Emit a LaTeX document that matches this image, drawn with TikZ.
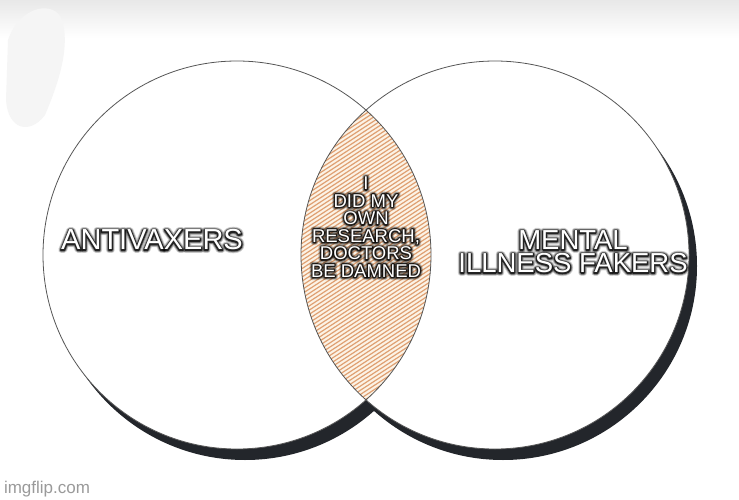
\documentclass[tikz,border=0pt]{standalone}
\usepackage{fontspec}
\newfontfamily\memefont{Liberation Sans}
\usetikzlibrary{calc}

\definecolor{shadowgray}{HTML}{23262B}
\definecolor{rimgray}{HTML}{555555}
\definecolor{lensbg}{HTML}{FCF3E6}
\definecolor{lensline}{HTML}{DFA072}
\definecolor{markgray}{HTML}{9A9A9A}

% outline only (text stroked, not filled)
\newcommand{\rimon}[1]{\special{pdf:literal direct 0 0 0 RG 1 Tr #1 w 1 j}}
\newcommand{\rimoff}{\special{pdf:literal direct 0 Tr}}

\tikzset{
    memeglow/.style={text=black, opacity=#1, inner sep=0pt, align=center},
    memelabel/.style={text=white, inner sep=0pt, align=center},
    rim/.style={draw=rimgray, line width=0.8pt}
}

% white text with a soft black halo
\newcommand{\memetext}[4]{%
    \foreach \w/\o in {6.0/0.18, 4.2/0.35, 2.4/0.75} {
        \node[memeglow=\o, font=#3] at (#2) {\rimon{\w}#4\rimoff};
    }
    \node[memelabel, font=#3] (#1) at (#2) {#4};
}

\begin{document}
\begin{tikzpicture}[x=1pt, y=-1pt]

    % Frame of the picture
    \useasboundingbox (0, 0) rectangle (739, 500);
    \fill[white] (0, 0) rectangle (739, 500);
    \shade[top color=black!9, bottom color=white] (0, 0) rectangle (739, 38);
    \fill[black!4] (8, 40) .. controls (20, 5) and (55, 0) .. (62, 20)
        .. controls (70, 45) and (60, 80) .. (45, 115)
        .. controls (30, 135) and (8, 130) .. (6, 100) -- cycle;

    % Centres of the two sets
    \coordinate (left) at (237, 255);
    \coordinate (right) at (495, 255);

    % Shadows
    \fill[shadowgray] ($(left)+(8, 11)$) circle (194);
    \fill[shadowgray] ($(right)+(8, 11)$) circle (194);

    % Discs
    \fill[white] (left) circle (194);
    \fill[white] (right) circle (194);

    % Overlap, hatched
    \begin{scope}
        \clip (left) circle (194);
        \clip (right) circle (194);
        \fill[lensbg] (right) circle (194);
        \foreach \k in {0, 1, ..., 95} {
            \draw[lensline, line width=1.2pt] (290, 100+4.2*\k) -- ++(160, -104);
        }
    \end{scope}

    % Outlines
    \draw[rim] (left) circle (194);
    \draw[rim] (right) circle (194);

    % Labels
    \memetext{antivax}{152, 240}{\memefont\fontsize{29}{24}\selectfont}{ANTIVAXERS}
    \memetext{fakers}{573, 252}{\memefont\fontsize{27.5}{23}\selectfont}{MENTAL\\ILLNESS FAKERS}
    \memetext{research}{366, 227}{\memefont\fontsize{18.5}{17.5}\selectfont}{I\\DID MY\\OWN\\RESEARCH,\\DOCTORS\\BE DAMNED}

    % Watermark
    \node[text=markgray, font=\memefont\fontsize{17}{17}\selectfont, inner sep=0pt] (mark) at (47, 489) {imgflip.com};

\end{tikzpicture}
\end{document}
